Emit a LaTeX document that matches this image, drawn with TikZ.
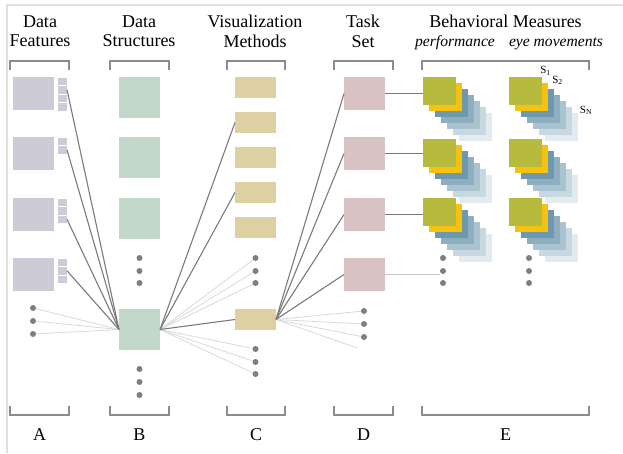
\documentclass[tikz,border=0pt]{standalone}
\usepackage{fontspec}
\setmainfont{Liberation Serif}
\definecolor{featgray}{HTML}{CCCBD6}
\definecolor{structgreen}{HTML}{C2D8C9}
\definecolor{vistan}{HTML}{DDD0A3}
\definecolor{taskpink}{HTML}{D9C2C3}
\definecolor{perfgreen}{HTML}{B6BB3E}
\definecolor{perfyellow}{HTML}{F6C10F}
\definecolor{sblue1}{HTML}{6D98AD}
\definecolor{sblue2}{HTML}{8EAFC0}
\definecolor{sblue3}{HTML}{AAC3D0}
\definecolor{sblue4}{HTML}{C8D8E1}
\definecolor{sblue5}{HTML}{E2EBF0}
\definecolor{dotgray}{HTML}{7E7E84}
\definecolor{linkgray}{HTML}{7A7A7A}
\definecolor{brkgray}{HTML}{8C8C8C}
\definecolor{framegray}{HTML}{E2E0D8}
\begin{document}
\begin{tikzpicture}[x = 1pt, y = -1pt,
    every node/.style = {inner sep = 0pt, outer sep = 0pt},
    head/.style = {font = \fontsize{18}{19.5}\selectfont, align = center, anchor = north},
    subhead/.style = {font = \fontsize{15.6}{18}\selectfont\itshape, anchor = base},
    lab/.style = {font = \fontsize{18}{20}\selectfont},
    slab/.style = {font = \fontsize{11}{12}\selectfont},
    brk/.style = {brkgray, line width = 1.5pt},
    box/.style = {anchor = north west, minimum width = 41pt},
    featbox/.style = {box, fill = featgray, minimum height = 33pt},
    featcell/.style = {anchor = north west, fill = featgray, draw = white, line width = .6pt,
                       minimum width = 10pt, minimum height = 8.5pt},
    structbox/.style = {box, fill = structgreen, minimum height = 41pt},
    visbox/.style = {box, fill = vistan, minimum height = 21pt},
    taskbox/.style = {box, fill = taskpink, minimum height = 33pt},
    layer/.style = {anchor = north west, minimum width = 33pt, minimum height = 28pt},
    dot/.style = {circle, fill = dotgray, minimum size = 6pt},
    link/.style = {linkgray, line width = 1.1pt},
    faint/.style = {gray!30, line width = .8pt}]
  \useasboundingbox (0,0) rectangle (623,453);
  \draw [framegray, line width = 1.2pt] (7,453) |- (623,5);

  % headings
  \node [head] (hA) at (40,15.3) {Data\\Features};
  \node [head] (hB) at (139,15.3) {Data\\Structures};
  \node [head] (hC) at (255,15.3) {Visualization\\Methods};
  \node [head] (hD) at (363,15.3) {Task\\Set};
  \node [head, anchor = base] (hE) at (505.5,27.3) {Behavioral Measures};
  \node [subhead] (hperf) at (455,46.5) {performance};
  \node [subhead] (heye) at (556,46.5) {eye movements};

  % brackets and letters
  \foreach \l/\r/\lab in {10/69/A, 110/169/B, 227/285/C, 334/393/D, 422/589/E} {
    \draw [brk] (\l,70) |- (\r,61) -- (\r,70);
    \draw [brk] (\l,406) |- (\r,415) -- (\r,406);
    \node [lab] (lab\lab) at ({(\l+\r)/2},435) {\lab};
  }

  % A: data features
  \foreach \r/\y/\k in {1/77/4, 2/137/2, 3/198/3, 4/258/3} {
    \node [featbox] (a\r) at (13,\y) {};
    \foreach \i in {1,...,\k}
      \node [featcell] (a\r-\i) at (57,\y+8.5*\i-8.5) {};
  }
  \node [dot] (ad1) at (33,308) {};
  \node [dot] (ad2) at (33,321) {};
  \node [dot] (ad3) at (33,334) {};

  % B: data structures
  \node [structbox] (b1) at (119,77) {};
  \node [structbox] (b2) at (119,137) {};
  \node [structbox] (b3) at (119,198) {};
  \node [dot] (bd1) at (139.5,258) {};
  \node [dot] (bd2) at (139.5,271) {};
  \node [dot] (bd3) at (139.5,283) {};
  \node [structbox] (b) at (119,309) {};
  \node [dot] (be1) at (139.5,369) {};
  \node [dot] (be2) at (139.5,382) {};
  \node [dot] (be3) at (139.5,395) {};

  % C: visualization methods
  \foreach \i/\y in {1/77, 2/112, 3/147, 4/182, 5/217}
    \node [visbox] (c\i) at (235,\y) {};
  \node [dot] (cd1) at (255.5,258) {};
  \node [dot] (cd2) at (255.5,271) {};
  \node [dot] (cd3) at (255.5,283) {};
  \node [visbox] (c) at (235,309) {};
  \node [dot] (ce1) at (255.5,349) {};
  \node [dot] (ce2) at (255.5,362) {};
  \node [dot] (ce3) at (255.5,374) {};

  % D: task set
  \foreach \i/\y in {1/77, 2/137, 3/198, 4/258}
    \node [taskbox] (d\i) at (344,\y) {};
  \node [dot] (dd1) at (364,311) {};
  \node [dot] (dd2) at (364,324) {};
  \node [dot] (dd3) at (364,337) {};
  \coordinate (dx) at (357,348);

  % E: behavioral measures, one stack per subject
  \foreach \x/\y/\n in {423/77/p1, 423/139/p2, 423/198/p3, 509/77/m1, 509/139/m2, 509/198/m3} {
    \foreach \d/\c in {36/sblue5, 30/sblue4, 24/sblue3, 18/sblue2, 12/sblue1, 6/perfyellow}
      \node [layer, fill = \c] at (\x+\d,\y+\d) {};
    \node [layer, fill = perfgreen] (\n) at (\x,\y) {};
  }
  \node [slab] (s1) at (545.5,71) {S\textsubscript{1}};
  \node [slab] (s2) at (557.5,80.5) {S\textsubscript{2}};
  \node [slab] (sN) at (586,110.5) {S\textsubscript{N}};
  \node [dot] (pd1) at (443,258) {};
  \node [dot] (pd2) at (443,271) {};
  \node [dot] (pd3) at (443,283) {};
  \node [dot] (md1) at (529,258) {};
  \node [dot] (md2) at (529,271) {};
  \node [dot] (md3) at (529,283) {};

  % connectors
  \foreach \s in {ad1, ad2, ad3}
    \draw [faint] (\s) -- (b.west);
  \foreach \s in {a1-2, a2-2, a3-3, a4-2}
    \draw [link] (\s.east) -- (b.west);
  \foreach \t in {cd1, cd2, cd3, ce1, ce2, ce3}
    \draw [faint] (b.east) -- (\t);
  \foreach \t in {c2, c4, c}
    \draw [link] (b.east) -- (\t.west);
  \foreach \t in {dd1, dd2, dd3, dx}
    \draw [faint] (c.east) -- (\t);
  \foreach \t in {d1, d2, d3, d4}
    \draw [link] (c.east) -- (\t.west);
  \draw [link] (d1.east) -- (d1.east -| p1.west);
  \draw [link] (d2.east) -- (d2.east -| p2.west);
  \draw [link] (d3.east) -- (d3.east -| p3.west);
  \draw [faint, gray!45] (d4.east) -- (d4.east -| pd2.west);
\end{tikzpicture}
\end{document}
